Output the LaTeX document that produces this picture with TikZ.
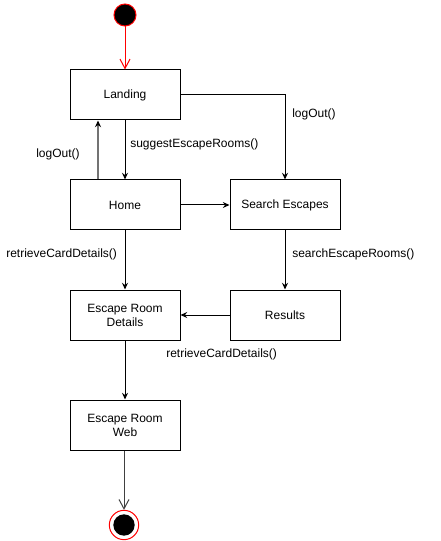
\documentclass[tikz,border=0pt]{standalone}
\usepackage{fontspec}
\setmainfont{Liberation Sans}
\usetikzlibrary{arrows.meta,positioning}
\tikzset{
  state/.style={draw, line width=0.75pt, minimum width=82.5pt, minimum height=37.5pt, align=center, font=\fontsize{9}{10.5}\selectfont},
  lbl/.style={anchor=west, inner sep=0pt, font=\fontsize{9}{10.5}\selectfont},
  flow/.style={line width=0.75pt, -{Stealth[length=5pt,width=4.5pt]}},
  openflow/.style={line width=0.75pt, -{Straight Barb[length=7pt,width=7.5pt]}}
}
\begin{document}
\begin{tikzpicture}[x=0.75pt,y=-0.75pt]
  \useasboundingbox (0,0) rectangle (441,541);
  % initial and final states
  \node[circle, fill=black, draw=red, line width=0.75pt, minimum size=16.5pt, inner sep=0pt] (start) at (125,15) {};
  \node[circle, draw=red, line width=0.75pt, minimum size=22pt, inner sep=0pt] (finish) at (124,525) {};
  \node[circle, fill=black, minimum size=16pt, inner sep=0pt] (finishdot) at (124,525) {};
  % states
  \node[state] (landing) at (125,95) {Landing};
  \node[state] (home) at (125,205) {Home};
  \node[state] (search) at (285,205) {Search Escapes};
  \node[state] (details) at (125,315) {Escape Room\\Details};
  \node[state] (results) at (285,315) {Results};
  \node[state] (web) at (125,425) {Escape Room\\Web};
  % transitions
  \draw[openflow, red] (start) -- (landing);
  \draw[flow] (landing) -- (home);
  \draw[flow, draw=black!55, line width=1.1pt, -{Stealth[length=5pt,width=4.5pt,color=black]}] ([xshift=-20.25pt]home.north) -- ([xshift=-20.25pt]landing.south);
  \draw[flow] (landing.east) -| (search.north);
  \draw[flow] (home) -- (search);
  \draw[flow] (search) -- (results);
  \draw[flow] (home) -- (details);
  \draw[flow] (results) -- (details);
  \draw[flow] (details) -- (web);
  \draw[openflow, black!75] ([xshift=-0.75pt]web.south) -- (finish.north);
  % labels
  \node[lbl] (lsuggest) at (130,144) {suggestEscapeRooms()};
  \node[lbl] (llogouta) at (36,154) {logOut()};
  \node[lbl] (llogoutb) at (292,114) {logOut()};
  \node[lbl] (lsearch) at (292,254) {searchEscapeRooms()};
  \node[lbl] (lcarda) at (6,254) {retrieveCardDetails()};
  \node[lbl] (lcardb) at (166,354) {retrieveCardDetails()};
\end{tikzpicture}
\end{document}
